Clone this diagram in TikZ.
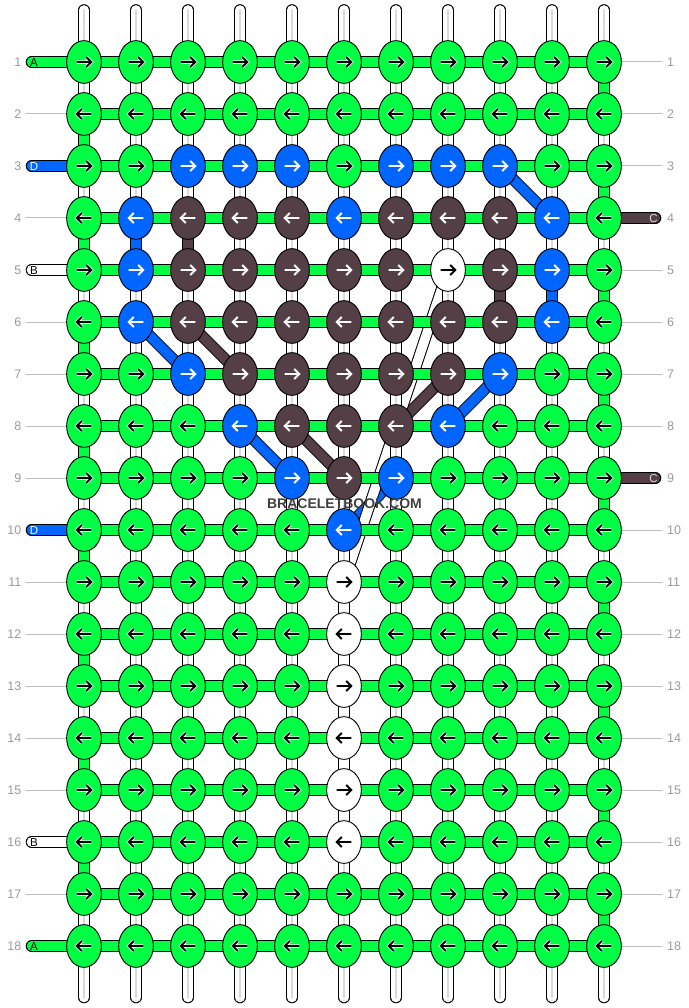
\documentclass[tikz,border=0pt]{standalone}
\usepackage{fontspec}
\setmainfont{Liberation Sans}
\usetikzlibrary{shapes.geometric}
\pgfdeclarelayer{bg}
\pgfsetlayers{bg,main}
\definecolor{kg}{HTML}{00FF44}
\definecolor{kb}{HTML}{0066FF}
\definecolor{km}{HTML}{543F47}
\definecolor{kw}{HTML}{FFFFFF}
\colorlet{fg}{black}\colorlet{hg}{white}
\colorlet{fw}{black}\colorlet{hw}{white}
\colorlet{fb}{white}\colorlet{hb}{kb}
\colorlet{fm}{white}\colorlet{hm}{km}
\definecolor{rowgrey}{HTML}{9A9A9A}
\definecolor{tickgrey}{HTML}{BDBDBD}
\definecolor{threadgrey}{HTML}{DADADA}
\tikzset{
  knot/.style={ellipse,draw=black,line width=.9pt,minimum width=34.7pt,minimum height=42.7pt,inner sep=0pt},
  band/.style={line width=1pt,double=#1,double distance=9.6pt},
  stub/.style={band=#1,line cap=round},
  thread/.style={draw=threadgrey,line width=2.4pt,line cap=round},
  tick/.style={draw=tickgrey,line width=1pt},
  rownum/.style={text=rowgrey,font=\fontsize{12.5}{14}\selectfont,inner sep=0pt},
  strandname/.style={font=\fontsize{11.5}{14}\selectfont,inner sep=0pt},
  arrowline/.style={line width=1.9pt},
  brand/.style={text=black!75,font=\fontsize{14}{16}\selectfont\bfseries,inner sep=0pt}
}
\begin{document}
\begin{tikzpicture}[x=1pt,y=-1pt]
\useasboundingbox (0,0) rectangle (688,1008);
\foreach \rowlist [count=\r] in {
 {g,g,g,g,g,g,g,g,g,g,g},
 {g,g,g,g,g,g,g,g,g,g,g},
 {g,g,b,b,b,g,b,b,b,g,g},
 {g,b,m,m,m,b,m,m,m,b,g},
 {g,b,m,m,m,m,m,w,m,b,g},
 {g,b,m,m,m,m,m,m,m,b,g},
 {g,g,b,m,m,m,m,m,b,g,g},
 {g,g,g,b,m,m,m,b,g,g,g},
 {g,g,g,g,b,m,b,g,g,g,g},
 {g,g,g,g,g,b,g,g,g,g,g},
 {g,g,g,g,g,w,g,g,g,g,g},
 {g,g,g,g,g,w,g,g,g,g,g},
 {g,g,g,g,g,w,g,g,g,g,g},
 {g,g,g,g,g,w,g,g,g,g,g},
 {g,g,g,g,g,w,g,g,g,g,g},
 {g,g,g,g,g,w,g,g,g,g,g},
 {g,g,g,g,g,g,g,g,g,g,g},
 {g,g,g,g,g,g,g,g,g,g,g}}
{
  \pgfmathsetmacro{\yy}{62+52*(\r-1)}
  \pgfmathtruncatemacro{\isodd}{mod(\r,2)}
  \foreach \kc [count=\k] in \rowlist {
    \pgfmathsetmacro{\xx}{84+52*(\k-1)}
    \node[knot,fill=k\kc] (n-\r-\k) at (\xx,\yy) {};
    \ifnum\isodd=1
      \draw[arrowline,draw=f\kc,preaction={draw=h\kc,line width=3.4pt},shift={(\xx,\yy)}]
        (-7.4,0) -- (7,0) (2.2,-5) -- (7.2,0) -- (2.2,5);
    \else
      \draw[arrowline,draw=f\kc,preaction={draw=h\kc,line width=3.4pt},shift={(\xx,\yy)}]
        (7.4,0) -- (-7,0) (-2.2,-5) -- (-7.2,0) -- (-2.2,5);
    \fi
  }
}
\foreach \k in {1,...,11} {
  \pgfmathsetmacro{\xx}{84+52*(\k-1)}
  \coordinate (top-\k) at (\xx,10);
  \coordinate (bot-\k) at (\xx,997.5);
}
\foreach \r in {1,...,18} {
  \pgfmathsetmacro{\yy}{62+52*(\r-1)}
  \node[rownum,anchor=east] (ll-\r) at (21.5,\yy) {\r};
  \node[rownum,anchor=west] (rl-\r) at (667,\yy) {\r};
  \coordinate (lt-\r) at (26,\yy);
  \coordinate (rt-\r) at (662,\yy);
  \coordinate (ls-\r) at (31.5,\yy);
  \coordinate (rs-\r) at (655.5,\yy);
}
\begin{pgfonlayer}{bg}
  \foreach \r in {2,4,6,7,8,9,11,12,13,14,15,17} \draw[tick] (lt-\r) -- (n-\r-1.center);
  \foreach \r in {1,2,3,5,6,7,8,10,11,12,13,14,15,16,17,18} \draw[tick] (rt-\r) -- (n-\r-11.center);
  \foreach \a/\b/\c/\d in {3/9/4/10,6/2/7/3,8/4/9/5,7/9/8/8,9/7/10/6}
    \draw[band=kb] (n-\a-\b.center) -- (n-\c-\d.center);
  \foreach \a/\b/\c/\d in {6/3/7/4,8/5/9/6,7/8/8/7}
    \draw[band=km] (n-\a-\b.center) -- (n-\c-\d.center);
  \draw[band=white] (n-5-8.center) -- (n-11-6.center);
  \foreach \k in {1,...,11} {
    \draw[stub=white] (top-\k) -- (n-1-\k.center);
    \draw[thread] (top-\k) -- (n-1-\k.center);
    \draw[stub=white] (bot-\k) -- (n-18-\k.center);
    \draw[thread] (bot-\k) -- (n-18-\k.center);
  }
  \foreach \r [evaluate=\r as \rn using int(\r+1)] in {1,...,17}
    \foreach \k in {1,...,11} {
      \draw[band=white] (n-\r-\k.center) -- (n-\rn-\k.center);
      \draw[thread] (n-\r-\k.center) -- (n-\rn-\k.center);
    }
  \foreach \r [evaluate=\r as \rn using int(\r+1)] in {2,4,...,16}
    \draw[band=kg] (n-\r-1.center) -- (n-\rn-1.center);
  \foreach \r [evaluate=\r as \rn using int(\r+1)] in {1,3,...,17}
    \draw[band=kg] (n-\r-11.center) -- (n-\rn-11.center);
  \draw[band=kb] (n-4-2.center) -- (n-5-2.center);
  \draw[band=km] (n-4-3.center) -- (n-5-3.center);
  \draw[band=km] (n-5-9.center) -- (n-6-9.center);
  \draw[band=kb] (n-5-10.center) -- (n-6-10.center);
  \foreach \r [evaluate=\r as \rn using int(\r+1)] in {11,...,15}
    \draw[band=white] (n-\r-6.center) -- (n-\rn-6.center);
  \foreach \r in {1,...,18} {
    \foreach \hc/\hd in {1/2,2/3,3/4,4/5,5/6,6/7,7/8,8/9,9/10,10/11} {
      \draw[band=kg] (n-\r-\hc.center) -- (n-\r-\hd.center);
    }
  }
  \foreach \r/\col in {1/kg,3/kb,5/white,10/kb,16/white,18/kg}
    \draw[stub=\col] (ls-\r) -- (n-\r-1.center);
  \foreach \r/\col in {4/km,9/km}
    \draw[stub=\col] (rs-\r) -- (n-\r-11.center);
\end{pgfonlayer}
\node[strandname,text=black] (sa1) at (34,62.5) {A};
\node[strandname,text=white] (sd3) at (34,166.5) {D};
\node[strandname,text=black] (sb5) at (34,270.5) {B};
\node[strandname,text=white] (sd10) at (34,530.5) {D};
\node[strandname,text=black] (sb16) at (34,842.5) {B};
\node[strandname,text=black] (sa18) at (34,946.5) {A};
\node[strandname,text=white!85!black] (sc4) at (653.5,218.5) {C};
\node[strandname,text=white!85!black] (sc9) at (653.5,478.5) {C};
\node[brand] (brandmark) at (344.5,503.7) {BRACELETBOOK.COM};
\end{tikzpicture}
\end{document}
